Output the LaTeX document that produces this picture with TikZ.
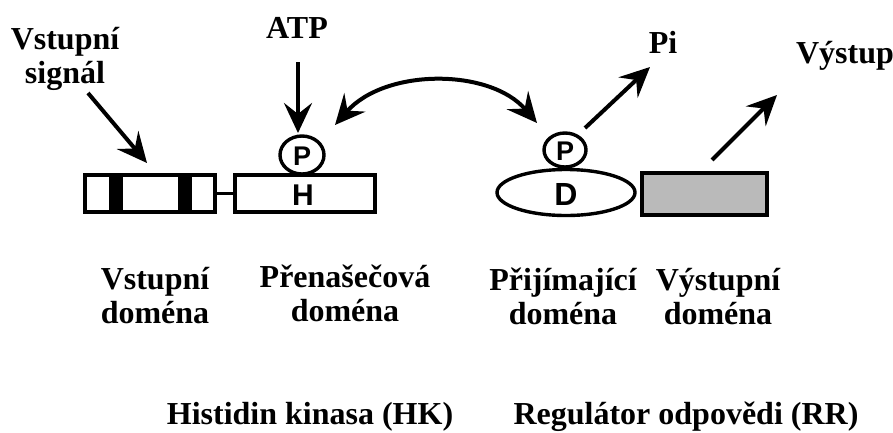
\documentclass[tikz,border=0pt]{standalone}
\usepackage{fontspec}
\setmainfont{Liberation Serif}
\newfontfamily\sansb{Liberation Sans}
\usetikzlibrary{arrows.meta,shapes.geometric}
\tikzset{
  lbl/.style={font=\fontsize{32}{34}\selectfont\bfseries, inner sep=0pt, align=center, anchor=base},
  dom/.style={draw, line width=3.8pt, inner sep=0pt},
  blob/.style={draw, ellipse, line width=3.4pt, fill=white, inner sep=0pt},
  letter/.style={font=\sansb\bfseries\fontsize{30}{30}\selectfont, inner sep=0pt},
  tip/.tip={Stealth[length=30pt, width=28pt, inset=11pt]},
  arr/.style={line width=4pt, -tip},
  darr/.style={line width=4pt, tip-tip}
}
\begin{document}
\begin{tikzpicture}[x=1pt,y=-1pt]
\useasboundingbox (0,0) rectangle (893,432);
% domains
\node[dom, minimum width=130pt, minimum height=37pt] (inbox) at (150,193.5) {};
\fill (109,175) rectangle (123,212);
\fill (178,175) rectangle (192,212);
\node[dom, minimum width=140pt, minimum height=37pt] (hbox) at (305,193.5) {};
\draw[line width=2.5pt] (inbox.east) -- (hbox.west);
\node[letter] (h) at (303,195) {H};
\node[blob, minimum width=44pt, minimum height=38pt] (pl) at (302,155) {};
\node[letter, font=\sansb\bfseries\fontsize{27}{27}\selectfont] (plt) at (302,156) {P};
\node[dom, fill=black!27, minimum width=125pt, minimum height=42pt] (outbox) at (704.5,194) {};
\node[blob, minimum width=138pt, minimum height=46pt] (d) at (566,192.5) {};
\node[letter, font=\sansb\bfseries\fontsize{32}{32}\selectfont] (dt) at (566,194) {D};
\node[blob, minimum width=42pt, minimum height=34pt] (pr) at (565,150) {};
\node[letter, font=\sansb\bfseries\fontsize{27}{27}\selectfont] (prt) at (565,151) {P};
% labels
\node[lbl] (sig) at (65,83) {Vstupní\\signál};
\node[lbl] (atp) at (297,38) {ATP};
\node[lbl] (pi) at (663,53) {Pi};
\node[lbl] (vys) at (845,63) {Výstup};
\node[lbl] (l1) at (155,323) {Vstupní\\doména};
\node[lbl] (l2) at (345,321) {Přenašečová\\doména};
\node[lbl] (l3) at (563,324) {Přijímající\\doména};
\node[lbl] (l4) at (718,324) {Výstupní\\doména};
\node[lbl] (hk) at (310,424) {Histidin kinasa (HK)};
\node[lbl] (rr) at (686,424) {Regulátor odpovědi (RR)};
% arrows
\coordinate (s1) at (88,93); \coordinate (s2) at (147,163);
\coordinate (a1) at (298,62); \coordinate (a2) at (298,133);
\coordinate (c1) at (335,125); \coordinate (c2) at (537,123);
\coordinate (p1) at (585,128); \coordinate (p2) at (650,67);
\coordinate (o1) at (712,160); \coordinate (o2) at (777,95);
\draw[arr] (s1) -- (s2);
\draw[arr] (a1) -- (a2);
\draw[darr] (c1) .. controls (385,68) and (490,68) .. (c2);
\draw[arr] (p1) -- (p2);
\draw[arr] (o1) -- (o2);
\end{tikzpicture}
\end{document}
